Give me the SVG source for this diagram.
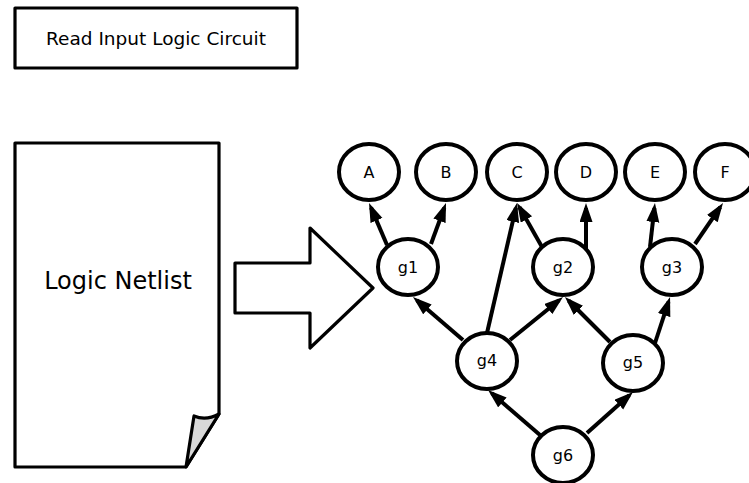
<svg xmlns="http://www.w3.org/2000/svg" width="749" height="483" viewBox="0 0 749 483">
  <style>
    .shape { fill: #ffffff; stroke: #000000; stroke-width: 3.2; stroke-linejoin: round; }
    .node ellipse { fill: #ffffff; stroke: #000000; stroke-width: 4; }
    .node text { font-family: "DejaVu Sans", sans-serif; font-size: 16px; text-anchor: middle; fill: #000000; }
    .label { font-family: "DejaVu Sans", sans-serif; fill: #000000; text-anchor: middle; }
    .edges line { stroke: #000000; stroke-width: 4; marker-end: url(#head); }
  </style>
  <defs>
    <marker id="head" markerUnits="userSpaceOnUse" markerWidth="20" markerHeight="14" refX="14" refY="6.5" orient="auto">
      <path d="M0,0 L19,6.5 L0,13 Z" fill="#000000"/>
    </marker>
  </defs>

  <rect width="749" height="483" fill="#ffffff"/>

  <!-- step caption -->
  <g id="caption">
    <rect class="shape" x="15" y="8" width="282" height="60"/>
    <text class="label" x="156" y="45" font-size="18.5">Read Input Logic Circuit</text>
  </g>

  <!-- netlist document with folded corner -->
  <g id="netlist">
    <path class="shape" d="M15,143 L219,143 L219,414 L186,467 L15,467 Z"/>
    <path d="M219,414 Q206,421 194,416 L186,467 Z" fill="#d9d9d9" stroke="#000000" stroke-width="3.2" stroke-linejoin="round"/>
    <text class="label" x="118" y="289" font-size="24">Logic Netlist</text>
  </g>

  <!-- conversion arrow -->
  <g id="convert">
    <path class="shape" d="M235,263 L310,263 L310,228 L373,288 L310,348 L310,313 L235,313 Z" stroke-linejoin="miter"/>
  </g>

  <!-- gate graph edges -->
  <g class="edges" id="edges">
    <line x1="387" y1="245" x2="371" y2="207.6"/>
    <line x1="431" y1="244" x2="444.3" y2="207.7"/>
    <line x1="487" y1="333" x2="515.9" y2="207.9"/>
    <line x1="542" y1="247" x2="519.5" y2="207.3"/>
    <line x1="586" y1="249" x2="586" y2="208"/>
    <line x1="650" y1="247" x2="654.4" y2="208"/>
    <line x1="695" y1="244" x2="720.2" y2="207.1"/>
    <line x1="463" y1="340" x2="416.8" y2="300.3"/>
    <line x1="510" y1="340" x2="559.1" y2="300.2"/>
    <line x1="610" y1="342" x2="568.5" y2="300.5"/>
    <line x1="655" y1="343" x2="668.5" y2="301.8"/>
    <line x1="540" y1="435" x2="491.8" y2="393.3"/>
    <line x1="587" y1="433" x2="629.3" y2="395.3"/>
  </g>

  <!-- gate graph nodes -->
  <g class="node" id="A"><ellipse cx="369" cy="172" rx="30" ry="28"/><text x="369" y="178">A</text></g>
  <g class="node" id="B"><ellipse cx="446" cy="172" rx="30" ry="28"/><text x="446" y="178">B</text></g>
  <g class="node" id="C"><ellipse cx="517" cy="172" rx="30" ry="28"/><text x="517" y="178">C</text></g>
  <g class="node" id="D"><ellipse cx="586" cy="172" rx="30" ry="28"/><text x="586" y="178">D</text></g>
  <g class="node" id="E"><ellipse cx="655" cy="172" rx="30" ry="28"/><text x="655" y="178">E</text></g>
  <g class="node" id="F"><ellipse cx="725" cy="172" rx="30" ry="28"/><text x="725" y="178">F</text></g>
  <g class="node" id="g1"><ellipse cx="408" cy="267" rx="30" ry="28"/><text x="408" y="273">g1</text></g>
  <g class="node" id="g2"><ellipse cx="563" cy="267" rx="30" ry="28"/><text x="563" y="273">g2</text></g>
  <g class="node" id="g3"><ellipse cx="672" cy="267" rx="30" ry="28"/><text x="672" y="273">g3</text></g>
  <g class="node" id="g4"><ellipse cx="487" cy="361" rx="30" ry="28"/><text x="487" y="366">g4</text></g>
  <g class="node" id="g5"><ellipse cx="633" cy="363" rx="30" ry="28"/><text x="633" y="368">g5</text></g>
  <g class="node" id="g6"><ellipse cx="563" cy="455" rx="30" ry="28"/><text x="563" y="461">g6</text></g>
</svg>
